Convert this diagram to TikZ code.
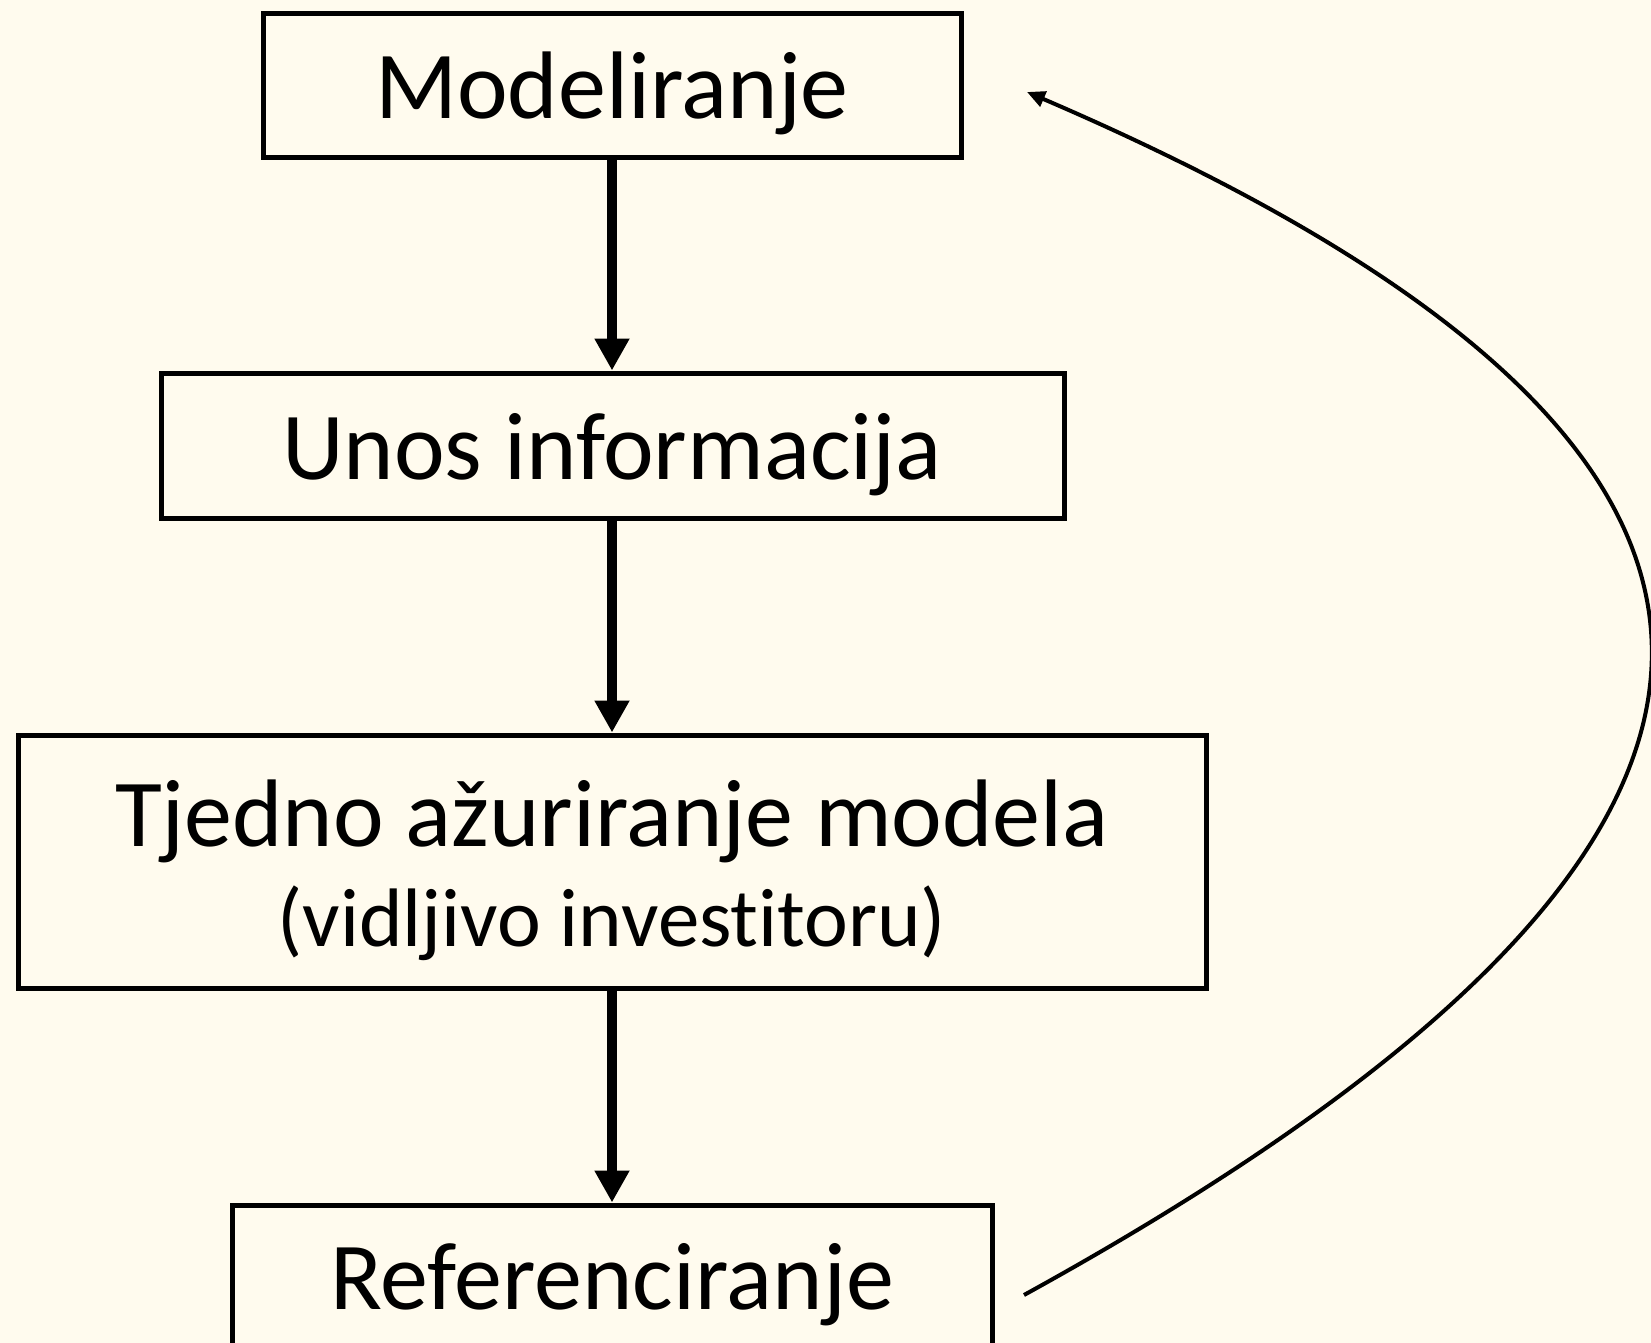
\documentclass[tikz,border=0pt]{standalone}
\usepackage{fontspec}
\setmainfont{Carlito}[Ligatures=NoCommon]
\usetikzlibrary{arrows.meta}
\definecolor{bg}{RGB}{255,251,238}
\begin{document}
\begin{tikzpicture}[x=1pt,y=-1pt,
  box/.style={draw=black,line width=5pt,inner sep=0pt},
  bigtxt/.style={anchor=base,inner sep=0pt,font=\fontsize{96}{114}\selectfont},
  smalltxt/.style={anchor=base,inner sep=0pt,font=\fontsize{83}{98}\selectfont},
  flow/.style={line width=10.5pt,-{Triangle[length=32pt,width=33pt]}},
  loopback/.style={line width=4pt,-{Triangle[length=18pt,width=16pt]}}]
\fill[bg] (0,0) rectangle (1651,1343);
\useasboundingbox (0,0) rectangle (1651,1343);
\clip (0,0) rectangle (1651,1343);
\node[box,minimum width=698pt,minimum height=144pt] (b1) at (612,86) {};
\node[box,minimum width=903pt,minimum height=145pt] (b2) at (612.5,445.5) {};
\node[box,minimum width=1188pt,minimum height=253pt] (b3) at (612,861.5) {};
\node[box,minimum width=760pt,minimum height=200pt] (b4) at (612,1305) {};
\node[bigtxt] (t1) at (612,119) {Modeliranje};
\node[bigtxt] (t2) at (612,479) {Unos informacija};
\node[bigtxt] (t3) at (612,846) {Tjedno ažuriranje modela};
\node[smalltxt] (t3b) at (612,946) {(vidljivo investitoru)};
\node[bigtxt] (t4) at (612,1309) {Referenciranje};
\draw[flow] (b1.south) -- (b1.south |- b2.north);
\draw[flow] (b1.south |- b2.south) -- (b1.south |- b3.north);
\draw[flow] (b1.south |- b3.south) -- (b1.south |- b4.north);
\coordinate (cs) at (1024,1295);
\coordinate (ce) at (1027,92);
\draw[loopback] (cs) .. controls (1858,836) and (1858,449) .. (ce);
\end{tikzpicture}
\end{document}
